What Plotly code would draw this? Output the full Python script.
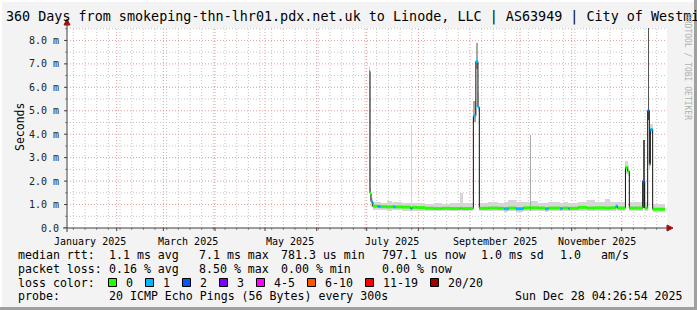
import pandas as pd
import plotly.graph_objects as go

# ---------------- data ----------------
bin_start = [
    "2025-07-02 10:00", "2025-07-03 00:00", "2025-07-03 14:00", "2025-07-04 16:00",
    "2025-07-07 14:00", "2025-07-09 08:00", "2025-07-13 00:00", "2025-07-16 00:00",
    "2025-07-17 00:00", "2025-07-18 06:00", "2025-07-22 00:00", "2025-07-27 10:00",
    "2025-07-27 20:00", "2025-07-28 10:00", "2025-07-31 00:00", "2025-08-05 00:00",
    "2025-08-10 12:00", "2025-08-15 00:00", "2025-08-20 00:00", "2025-08-25 20:00",
    "2025-08-26 06:00", "2025-08-27 12:00", "2025-09-02 12:00", "2025-09-03 00:00",
    "2025-09-04 12:00", "2025-09-05 18:00", "2025-09-06 14:00", "2025-09-12 00:00",
    "2025-09-18 00:00", "2025-09-21 12:00", "2025-09-24 00:00", "2025-09-28 12:00",
    "2025-10-03 00:00", "2025-10-06 18:00", "2025-10-07 08:00", "2025-10-12 00:00",
    "2025-10-16 00:00", "2025-10-18 00:00", "2025-10-25 00:00", "2025-10-26 12:00",
    "2025-10-30 00:00", "2025-10-31 00:00", "2025-11-05 00:00", "2025-11-10 00:00",
    "2025-11-15 00:00", "2025-11-21 00:00", "2025-11-24 00:00", "2025-11-27 12:00",
    "2025-11-28 12:00", "2025-12-03 06:00", "2025-12-04 14:00", "2025-12-05 14:00",
    "2025-12-13 14:00", "2025-12-14 19:00", "2025-12-16 14:00", "2025-12-17 14:00",
    "2025-12-18 05:00", "2025-12-19 14:00",
]
data_end = "2025-12-27 00:00"

median_ms = [
    6.68, 1.48, 1.12, 0.93,
    0.92, 0.91, 0.90, 0.91,
    0.90, 0.90, 0.89, 0.82,
    0.84, 0.88, 0.87, 0.84,
    0.83, 0.84, 0.83, 0.84,
    0.84, 0.83, 0.84, 4.78,
    7.10, 5.15, 0.84, 0.85,
    0.84, 0.82, 0.85, 0.82,
    0.86, 0.86, 0.86, 0.85,
    0.82, 0.85, 0.83, 0.85,
    0.83, 0.84, 0.88, 0.85,
    0.86, 0.85, 0.86, 0.93,
    0.85, 2.58, 2.42, 0.85,
    2.00, 0.85, 5.00, 2.70,
    4.20, 0.80,
]
smoke_lo_ms = [
    1.60, 1.20, 0.90, 0.76,
    0.76, 0.75, 0.74, 0.76,
    0.75, 0.75, 0.74, 0.72,
    0.72, 0.74, 0.73, 0.72,
    0.71, 0.72, 0.71, 0.72,
    0.72, 0.71, 0.72, 4.50,
    6.80, 5.00, 0.72, 0.72,
    0.72, 0.70, 0.72, 0.70,
    0.73, 0.73, 0.73, 0.72,
    0.70, 0.72, 0.71, 0.72,
    0.71, 0.72, 0.74, 0.72,
    0.73, 0.72, 0.73, 0.76,
    0.72, 2.30, 2.20, 0.72,
    0.85, 0.72, 4.60, 2.50,
    4.00, 0.70,
]
smoke_hi_ms = [
    6.90, 1.70, 1.30, 1.12,
    1.10, 1.08, 1.15, 1.08,
    1.10, 1.10, 1.06, 1.08,
    4.40, 1.06, 1.06, 1.04,
    1.08, 1.03, 1.06, 1.05,
    1.50, 1.05, 1.10, 5.40,
    7.90, 5.80, 1.05, 1.10,
    1.08, 1.10, 1.18, 1.10,
    1.12, 3.97, 1.16, 1.08,
    1.06, 1.10, 1.08, 1.10,
    1.06, 1.08, 1.10, 1.20,
    1.10, 1.25, 1.10, 1.12,
    1.10, 2.85, 2.70, 1.10,
    3.76, 1.10, 9.50, 2.90,
    4.45, 1.02,
]
loss_idx = [
    1, 0, 1, 0,
    1, 0, 0, 0,
    1, 0, 0, 1,
    1, 0, 0, 0,
    0, 0, 0, 0,
    0, 0, 0, 1,
    1, 1, 0, 0,
    0, 1, 0, 1,
    0, 0, 0, 0,
    1, 0, 1, 0,
    1, 0, 0, 0,
    0, 0, 0, 1,
    0, 0, 0, 0,
    2, 0, 2, 0,
    1, 0,
]
smoke_shade = [
    0, 0, 0, 0,
    0, 0, 0, 0,
    0, 0, 0, 0,
    0, 0, 0, 0,
    0, 0, 0, 0,
    0, 0, 0, 1,
    1, 0, 0, 0,
    0, 0, 0, 0,
    0, 1, 0, 0,
    0, 0, 0, 0,
    0, 0, 0, 0,
    0, 0, 0, 0,
    0, 0, 0, 0,
    2, 0, 2, 0,
    0, 0,
]

loss_labels = ["0", "1", "2", "3", "4-5", "6-10", "11-19", "20/20"]
loss_colors = ["#26ff00", "#00b8ff", "#0059ff", "#7e00ff",
               "#ff00ff", "#ff5500", "#ff0000", "#a10000"]
shade_colors = ["#d6d6d6", "#a8a8a8", "#555555"]

y_tick_vals = [0, 1, 2, 3, 4, 5, 6, 7, 8]
y_tick_text = ["0.0", "1.0 m", "2.0 m", "3.0 m", "4.0 m",
               "5.0 m", "6.0 m", "7.0 m", "8.0 m"]
month_label_dates = ["2025-01-16", "2025-03-16", "2025-05-16",
                     "2025-07-16", "2025-09-16", "2025-11-16"]
month_label_text = ["January 2025", "March 2025", "May 2025",
                    "July 2025", "September 2025", "November 2025"]

title_text = ("360 Days from smokeping-thn-lhr01.pdx.net.uk to Linode, LLC | "
              "AS63949 | City of Westmin")
rtt_row = ["median rtt:", "1.1 ms avg", "7.1 ms max", "781.3 us min",
           "797.1 us now", "1.0 ms sd", "1.0", "am/s"]
loss_row = ["packet loss:", "0.16 % avg", "8.50 % max", "0.00 % min", "0.00 % now"]
probe_row = ["probe:", "20 ICMP Echo Pings (56 Bytes) every 300s",
             "Sun Dec 28 04:26:54 2025"]

# ---------------- layout constants ----------------
W, H = 697, 310
ML, MR, MT, MB = 67, 30, 28, 82
PW, PH = W - ML - MR, H - MT - MB
FONT = "DejaVu Sans Mono"
X_START = "2025-01-02 04:26:54"
X_END = "2025-12-28 04:26:54"
Y_MAX = 8.53


def fx(px):
    return (px - ML) / PW


def fy(py):
    return (H - MB - py) / PH


starts = pd.to_datetime(bin_start)
ends = list(starts[1:]) + [pd.Timestamp(data_end)]
widths = [(e - s).total_seconds() * 1000.0 for s, e in zip(starts, ends)]

fig = go.Figure()

# smoke
fig.add_trace(go.Bar(
    x=starts, y=[h - l for h, l in zip(smoke_hi_ms, smoke_lo_ms)], base=smoke_lo_ms,
    width=widths, offset=0,
    marker=dict(color=[shade_colors[s] for s in smoke_shade], line=dict(width=0)),
    hoverinfo="skip", showlegend=False))

# median line (black)
fig.add_trace(go.Scatter(
    x=list(starts) + [pd.Timestamp(data_end)], y=median_ms + [median_ms[-1]],
    mode="lines", line=dict(color="#111111", width=1, shape="hv"),
    hoverinfo="skip", showlegend=False))

# loss-coloured median band
for li, col in enumerate(loss_colors):
    xs, ys = [], []
    for s, e, m, l in zip(starts, ends, median_ms, loss_idx):
        if l == li:
            xs += [s, e, None]
            ys += [m, m, None]
    if xs:
        fig.add_trace(go.Scatter(x=xs, y=ys, mode="lines",
                                 line=dict(color=col, width=3),
                                 hoverinfo="skip", showlegend=False))

shapes = []
annotations = []

# grid positions (layout)
month_grid = pd.date_range("2025-02-01", "2025-12-01", freq="MS")
week_grid = [d for d in pd.date_range("2025-01-06", "2025-12-28", freq="7D")
             if d.day != 1]
y_minor = [v + 0.5 for v in range(0, 9)]

MAJ = "#e59a9a"
MIN = "#c4c4c4"
DOT = "1px,2px"
for d in week_grid:
    shapes.append(dict(type="line", xref="x", yref="paper", x0=d, x1=d, y0=0, y1=1,
                       line=dict(color=MIN, width=1, dash=DOT), layer="below"))
for v in y_minor:
    shapes.append(dict(type="line", xref="paper", yref="y", x0=0, x1=1, y0=v, y1=v,
                       line=dict(color=MIN, width=1, dash=DOT), layer="below"))
for d in month_grid:
    shapes.append(dict(type="line", xref="x", yref="paper", x0=d, x1=d, y0=0, y1=1,
                       line=dict(color=MAJ, width=1, dash=DOT), layer="below"))
for v in y_tick_vals[1:]:
    shapes.append(dict(type="line", xref="paper", yref="y", x0=0, x1=1, y0=v, y1=v,
                       line=dict(color=MAJ, width=1, dash=DOT), layer="below"))

# frame
shapes.append(dict(type="rect", xref="paper", yref="paper",
                   x0=fx(0), x1=fx(W), y0=fy(H), y1=fy(H - 3),
                   fillcolor="#a0a0a0", line=dict(width=0), layer="below"))
shapes.append(dict(type="rect", xref="paper", yref="paper",
                   x0=fx(W - 3), x1=fx(W), y0=fy(H), y1=fy(0),
                   fillcolor="#a0a0a0", line=dict(width=0), layer="below"))
shapes.append(dict(type="rect", xref="paper", yref="paper",
                   x0=fx(0), x1=fx(W - 3), y0=fy(2), y1=fy(0),
                   fillcolor="#ffffff", line=dict(width=0), layer="below"))
shapes.append(dict(type="rect", xref="paper", yref="paper",
                   x0=fx(0), x1=fx(2), y0=fy(H - 3), y1=fy(0),
                   fillcolor="#ffffff", line=dict(width=0), layer="below"))

# axis ticks (short) below x axis / left of y axis
AX = "#404040"
ARR = "#a01010"
for d in month_grid:
    shapes.append(dict(type="line", xref="x", yref="paper", x0=d, x1=d,
                       y0=fy(H - MB + 3), y1=fy(H - MB), line=dict(color=AX, width=1)))
for d in week_grid:
    shapes.append(dict(type="line", xref="x", yref="paper", x0=d, x1=d,
                       y0=fy(H - MB + 2), y1=fy(H - MB), line=dict(color="#909090", width=1)))
for v in y_tick_vals:
    shapes.append(dict(type="line", xref="paper", yref="y", x0=fx(ML - 3), x1=fx(ML),
                       y0=v, y1=v, line=dict(color=AX, width=1)))
for v in y_minor:
    shapes.append(dict(type="line", xref="paper", yref="y", x0=fx(ML - 2), x1=fx(ML),
                       y0=v, y1=v, line=dict(color="#909090", width=1)))

# axes and arrows
shapes.append(dict(type="line", xref="paper", yref="paper",
                   x0=fx(ML), x1=fx(ML), y0=fy(H - MB + 4), y1=fy(24),
                   line=dict(color=AX, width=1)))
shapes.append(dict(type="line", xref="paper", yref="paper",
                   x0=fx(ML - 4), x1=fx(W - MR + 2), y0=fy(H - MB), y1=fy(H - MB),
                   line=dict(color=AX, width=1)))
shapes.append(dict(type="path", xref="paper", yref="paper",
                   path="M {a},{b} L {c},{b} L {d},{e} Z".format(
                       a=fx(ML - 3), b=fy(25), c=fx(ML + 3), d=fx(ML), e=fy(19)),
                   fillcolor=ARR, line=dict(color=ARR, width=1)))
shapes.append(dict(type="path", xref="paper", yref="paper",
                   path="M {a},{b} L {a},{c} L {d},{e} Z".format(
                       a=fx(W - MR), b=fy(H - MB - 3), c=fy(H - MB + 3),
                       d=fx(W - MR + 6), e=fy(H - MB)),
                   fillcolor=ARR, line=dict(color=ARR, width=1)))

# title
annotations.append(dict(text=title_text, xref="paper", yref="paper",
                        x=fx(4), y=fy(17), xanchor="left", yanchor="middle",
                        showarrow=False, font=dict(family=FONT, size=13.4, color="#000000")))
# watermark
annotations.append(dict(text="RRDTOOL / TOBI OETIKER", xref="paper", yref="paper",
                        x=fx(687), y=fy(12), xanchor="center", yanchor="top",
                        textangle=90, showarrow=False,
                        font=dict(family=FONT, size=8, color="#b0b0b0")))
# y-axis title
annotations.append(dict(text="Seconds", xref="paper", yref="paper",
                        x=fx(11), y=fy(127), textangle=-90, showarrow=False,
                        font=dict(family=FONT, size=11.5, color="#000000")))
# y tick labels
for v, t in zip(y_tick_vals, y_tick_text):
    annotations.append(dict(text=t, xref="paper", yref="y", x=fx(61), y=v,
                            xanchor="right", yanchor="middle", showarrow=False,
                            font=dict(family=FONT, size=10, color="#222222")))
# month labels
for d, t in zip(month_label_dates, month_label_text):
    annotations.append(dict(text=t, xref="x", yref="paper", x=d, y=fy(241),
                            xanchor="center", yanchor="middle", showarrow=False,
                            font=dict(family=FONT, size=10, color="#000000")))

# legend rows
LF = dict(family=FONT, size=11.6, color="#000000")
rtt_x = [16, 107.3, 196.7, 279.3, 380, 479.3, 558.3, 599.3]
loss_x = [16, 107.3, 196.7, 279.3, 380]
probe_x = [16, 107.3, 513.3]
row_y = [255, 268.5, 282.5, 296]
for t, x in zip(rtt_row, rtt_x):
    annotations.append(dict(text=t, xref="paper", yref="paper", x=fx(x), y=fy(row_y[0]),
                            xanchor="left", yanchor="middle", showarrow=False, font=LF))
for t, x in zip(loss_row, loss_x):
    annotations.append(dict(text=t, xref="paper", yref="paper", x=fx(x), y=fy(row_y[1]),
                            xanchor="left", yanchor="middle", showarrow=False, font=LF))
annotations.append(dict(text="loss color:", xref="paper", yref="paper", x=fx(16),
                        y=fy(row_y[2]), xanchor="left", yanchor="middle",
                        showarrow=False, font=LF))
sq_x = [108.5, 145.5, 182.5, 219.5, 256.5, 307.5, 365.5, 430.5]
for lab, col, x in zip(loss_labels, loss_colors, sq_x):
    shapes.append(dict(type="rect", xref="paper", yref="paper",
                       x0=fx(x), x1=fx(x + 8), y0=fy(row_y[2] + 4), y1=fy(row_y[2] - 4),
                       fillcolor=col, line=dict(color="#000000", width=1)))
    annotations.append(dict(text=lab, xref="paper", yref="paper", x=fx(x + 15),
                            y=fy(row_y[2]), xanchor="left", yanchor="middle",
                            showarrow=False, font=LF))
for t, x in zip(probe_row, probe_x):
    annotations.append(dict(text=t, xref="paper", yref="paper", x=fx(x), y=fy(row_y[3]),
                            xanchor="left", yanchor="middle", showarrow=False, font=LF))

fig.update_layout(
    width=W, height=H, autosize=False,
    margin=dict(l=ML, r=MR, t=MT, b=MB, pad=0),
    paper_bgcolor="#f3f3f3", plot_bgcolor="#ffffff",
    barmode="overlay", bargap=0, showlegend=False,
    shapes=shapes, annotations=annotations,
    xaxis=dict(type="date", range=[X_START, X_END], showgrid=False,
               showticklabels=False, ticks="", showline=False, zeroline=False,
               fixedrange=True),
    yaxis=dict(range=[0, Y_MAX], showgrid=False, showticklabels=False, ticks="",
               showline=False, zeroline=False, fixedrange=True),
)

fig.write_html("out.html", config=dict(displayModeBar=False, staticPlot=True))
